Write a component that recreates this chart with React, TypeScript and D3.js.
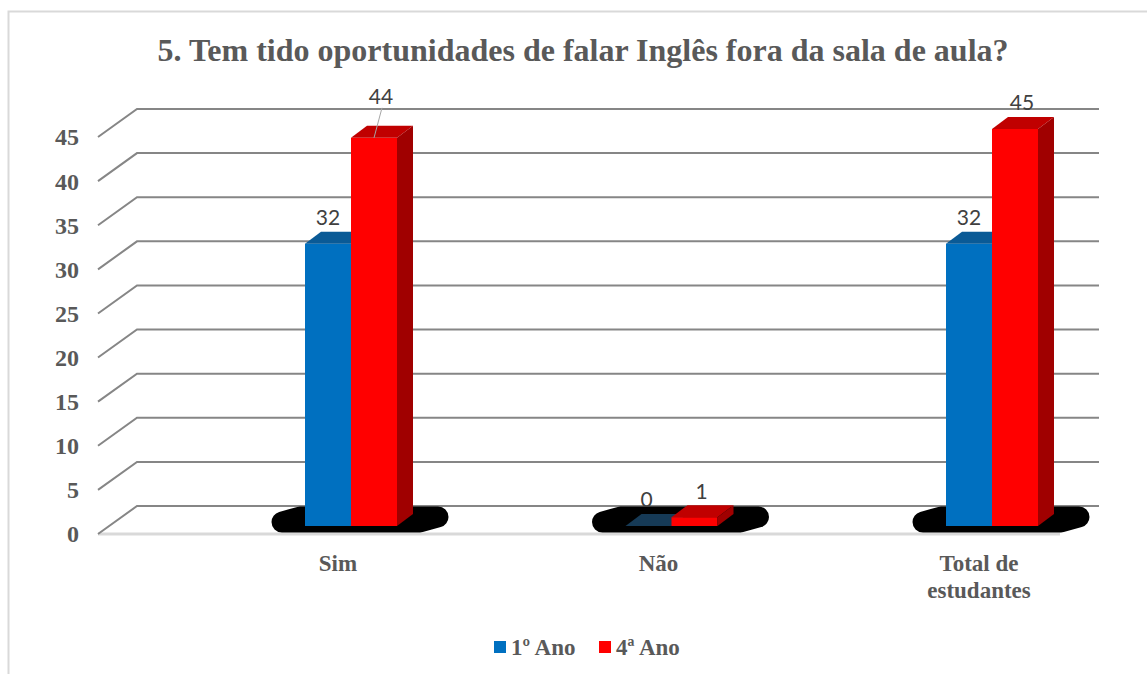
import { useEffect, useRef } from "react";
import * as d3 from "d3";

const categories = ["Sim", "Não", "Total de estudantes"];
const ano1 = [32, 0, 32];
const ano4 = [44, 1, 45];
const seriesNames = ["1º Ano", "4ª Ano"];
const yTicks = [0, 5, 10, 15, 20, 25, 30, 35, 40, 45];
const title = "5. Tem tido oportunidades de falar Inglês fora da sala de aula?";

const App = () => {
    const svgRef = useRef<SVGSVGElement | null>(null);

    useEffect(() => {
        if (!svgRef.current) return;
        const svg = d3.select(svgRef.current);
        svg.selectAll("*").remove();

        const width = 1147;
        const height = 674;
        const serif = "'Liberation Serif', 'Times New Roman', serif";
        const gray = "#595959";

        // 3D look: back wall, floor depth, bar depth
        const wallLeft = 137, wallRight = 1099;
        const depthX = 39, depthY = 28;
        const barW = 46, barDX = 16, barDY = 12;

        const yWall = d3.scaleLinear().domain([0, 45]).range([506, 109]);
        const yBar = d3.scaleLinear().domain([0, 45]).range([526, 129]);
        const x = d3.scalePoint<string>().domain(categories).range([351, 992]);

        // frame
        svg.append("path")
            .attr("d", `M8.5,${height} L8.5,11.5 L${width},11.5`)
            .attr("fill", "none")
            .attr("stroke", "#d9d9d9")
            .attr("stroke-width", 2);

        // title
        svg.append("text")
            .attr("x", 583)
            .attr("y", 61)
            .attr("text-anchor", "middle")
            .attr("font-family", serif)
            .attr("font-weight", "bold")
            .attr("font-size", 32)
            .attr("fill", gray)
            .text(title);

        // floor front edge
        svg.append("line")
            .attr("x1", wallLeft - depthX).attr("x2", wallRight - depthX)
            .attr("y1", yWall(0) + depthY).attr("y2", yWall(0) + depthY)
            .attr("stroke", "#d9d9d9").attr("stroke-width", 3);

        // gridlines with side-wall diagonals
        const grid = svg.append("g");
        yTicks.forEach(t => {
            const yb = yWall(t);
            grid.append("path")
                .attr("d", `M${wallLeft - depthX},${yb + depthY} L${wallLeft},${yb} L${wallRight},${yb}`)
                .attr("fill", "none")
                .attr("stroke", "#868686")
                .attr("stroke-width", 2);
            grid.append("text")
                .attr("x", 79)
                .attr("y", yb + depthY)
                .attr("dy", "0.35em")
                .attr("text-anchor", "end")
                .attr("font-family", serif)
                .attr("font-weight", "bold")
                .attr("font-size", 24)
                .attr("fill", gray)
                .text(t);
        });

        // shadows under each category
        categories.forEach(c => {
            const cx = x(c)! + 9;
            svg.append("polygon")
                .attr("points", [
                    [cx - 78, 522], [cx - 60, 517], [cx + 78, 517], [cx + 60, 522]
                ].map(p => p.join(",")).join(" "))
                .attr("fill", "#000")
                .attr("stroke", "#000")
                .attr("stroke-width", 21)
                .attr("stroke-linejoin", "round");
        });

        const pts = (arr: number[][]) => arr.map(p => p.join(",")).join(" ");
        const bars = svg.append("g");
        const y0 = yBar(0);

        const drawBar = (left: number, v: number, front: string, top: string, side: string) => {
            const yt = yBar(v);
            if (v > 0) {
                bars.append("rect")
                    .attr("x", left).attr("y", yt)
                    .attr("width", barW).attr("height", y0 - yt)
                    .attr("fill", front);
            }
            bars.append("polygon")
                .attr("points", pts([[left, yt], [left + barDX, yt - barDY], [left + barW + barDX, yt - barDY], [left + barW, yt]]))
                .attr("fill", top);
            bars.append("polygon")
                .attr("points", pts([[left + barW, yt], [left + barW + barDX, yt - barDY], [left + barW + barDX, y0 - barDY], [left + barW, y0]]))
                .attr("fill", side);
        };

        categories.forEach((c, i) => {
            const cx = x(c)!;
            drawBar(cx - barW, ano1[i], "#0070c0", ano1[i] === 0 ? "#163a56" : "#0a5a96", "#004f88");
            drawBar(cx, ano4[i], "#ff0000", "#c00000", "#a00000");
        });

        // data labels
        const labelFont = "Lato, 'Open Sans', sans-serif";
        categories.forEach((c, i) => {
            const cx = x(c)!;
            const yb = yBar(ano1[i]) - barDY;
            bars.append("text")
                .attr("x", cx - barW / 2 + (ano1[i] === 0 ? -2 : 0))
                .attr("y", yb - 14)
                .attr("dy", "0.35em")
                .attr("text-anchor", "middle")
                .attr("font-family", labelFont)
                .attr("font-size", 21)
                .attr("fill", "#404040")
                .text(ano1[i]);

            const yr = yBar(ano4[i]) - barDY;
            const lifted = ano4[i] === 44;
            const ly = lifted ? yr - 29 : yr - 14;
            bars.append("text")
                .attr("x", cx + barW / 2 + 7)
                .attr("y", ly)
                .attr("dy", "0.35em")
                .attr("text-anchor", "middle")
                .attr("font-family", labelFont)
                .attr("font-size", 21)
                .attr("fill", "#404040")
                .text(ano4[i]);
            if (lifted) {
                bars.append("line")
                    .attr("x1", cx + barW / 2 + 8).attr("y1", ly + 11)
                    .attr("x2", cx + barW / 2).attr("y2", yBar(ano4[i]))
                    .attr("stroke", "#a6a6a6").attr("stroke-width", 1);
            }
        });

        // category labels
        categories.forEach(c => {
            const words = c === "Total de estudantes" ? ["Total de", "estudantes"] : [c];
            const t = svg.append("text")
                .attr("text-anchor", "middle")
                .attr("font-family", serif)
                .attr("font-weight", "bold")
                .attr("font-size", 23)
                .attr("fill", gray);
            words.forEach((w, k) => {
                t.append("tspan")
                    .attr("x", x(c)! - 13)
                    .attr("y", 571 + k * 27)
                    .text(w);
            });
        });

        // legend
        const colors = ["#0070c0", "#ff0000"];
        const legendX = [494, 599];
        seriesNames.forEach((s, i) => {
            svg.append("rect")
                .attr("x", legendX[i]).attr("y", 641)
                .attr("width", 12).attr("height", 12)
                .attr("fill", colors[i]);
            svg.append("text")
                .attr("x", legendX[i] + 17)
                .attr("y", 655)
                .attr("font-family", serif)
                .attr("font-weight", "bold")
                .attr("font-size", 23)
                .attr("fill", gray)
                .text(s);
        });
    }, []);

    return (
        <svg
            ref={svgRef}
            width={1147}
            height={674}
            style={{ position: "absolute", left: 0, top: 0, background: "#fff" }}
        />
    );
};

export default App;
